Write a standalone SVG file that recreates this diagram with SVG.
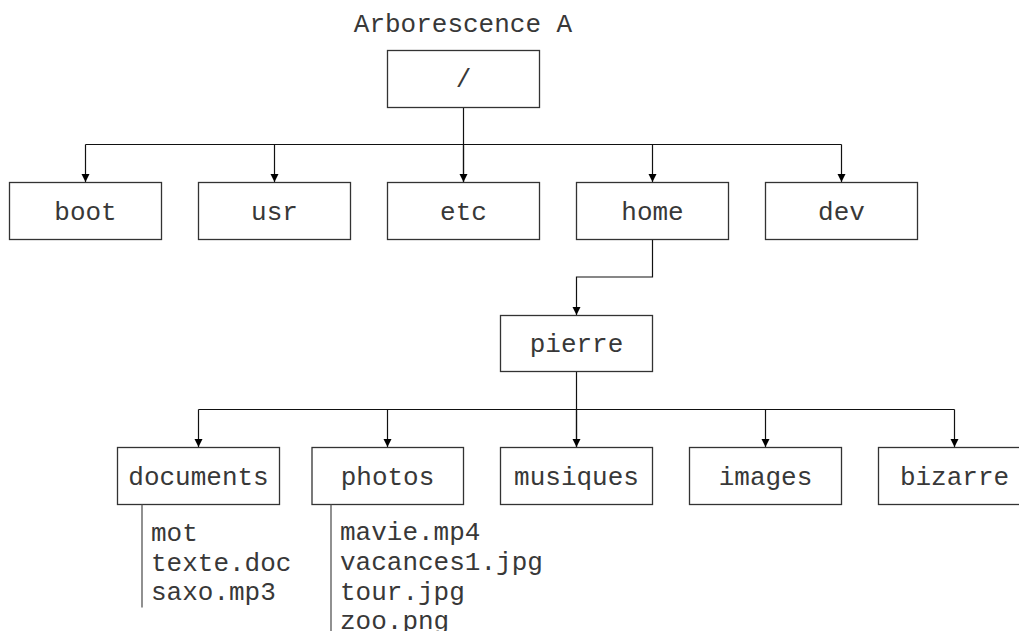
<svg xmlns="http://www.w3.org/2000/svg" width="1019" height="631" viewBox="0 0 1019 631">
  <style>
    .box { fill: #ffffff; stroke: #333333; stroke-width: 1.3; }
    .lbl { font-family: "Liberation Mono", "Courier New", monospace; font-size: 26px; fill: #383838; text-anchor: middle; }
    .item { font-family: "Liberation Mono", "Courier New", monospace; font-size: 26px; fill: #383838; }
    .wire { fill: none; stroke: #111111; stroke-width: 1.2; }
    .rail { fill: none; stroke: #555555; stroke-width: 1.3; }
  </style>
  <defs>
    <marker id="arrow" viewBox="0 0 8 10" refX="8" refY="5" markerWidth="8" markerHeight="10" markerUnits="userSpaceOnUse" orient="auto">
      <path d="M0,1 L8,5 L0,9 Z" fill="#000000"/>
    </marker>
  </defs>
  <rect width="1019" height="631" fill="#ffffff"/>

  <text class="lbl" x="463" y="32">Arborescence A</text>

  <!-- connectors -->
  <g id="connectors">
    <path class="wire" d="M463.5,107 V182"/>
    <path class="wire" d="M85.5,144.5 H841.5"/>
    <path class="wire" d="M85.5,144.5 V182" marker-end="url(#arrow)"/>
    <path class="wire" d="M274.5,144.5 V182" marker-end="url(#arrow)"/>
    <path class="wire" d="M463.5,144.5 V182" marker-end="url(#arrow)"/>
    <path class="wire" d="M652.5,144.5 V182" marker-end="url(#arrow)"/>
    <path class="wire" d="M841.5,144.5 V182" marker-end="url(#arrow)"/>
    <path class="wire" d="M652.5,239.5 V277 H576.5 V315" marker-end="url(#arrow)"/>
    <path class="wire" d="M576.5,371.5 V447"/>
    <path class="wire" d="M198.5,409.5 H954.5"/>
    <path class="wire" d="M198.5,409.5 V447" marker-end="url(#arrow)"/>
    <path class="wire" d="M387.5,409.5 V447" marker-end="url(#arrow)"/>
    <path class="wire" d="M576.5,409.5 V447" marker-end="url(#arrow)"/>
    <path class="wire" d="M765.5,409.5 V447" marker-end="url(#arrow)"/>
    <path class="wire" d="M954.5,409.5 V447" marker-end="url(#arrow)"/>
  </g>

  <g id="node-root">
    <rect class="box" x="387.5" y="50.5" width="152" height="57"/>
    <text class="lbl" x="463.5" y="87">/</text>
  </g>

  <g id="node-boot">
    <rect class="box" x="9.5" y="182.5" width="152" height="57"/>
    <text class="lbl" x="85.5" y="219.5">boot</text>
  </g>
  <g id="node-usr">
    <rect class="box" x="198.5" y="182.5" width="152" height="57"/>
    <text class="lbl" x="274.5" y="219.5">usr</text>
  </g>
  <g id="node-etc">
    <rect class="box" x="387.5" y="182.5" width="152" height="57"/>
    <text class="lbl" x="463.5" y="219.5">etc</text>
  </g>
  <g id="node-home">
    <rect class="box" x="576.5" y="182.5" width="152" height="57"/>
    <text class="lbl" x="652.5" y="219.5">home</text>
  </g>
  <g id="node-dev">
    <rect class="box" x="765.5" y="182.5" width="152" height="57"/>
    <text class="lbl" x="841.5" y="219.5">dev</text>
  </g>

  <g id="node-pierre">
    <rect class="box" x="500.5" y="315.5" width="152" height="56"/>
    <text class="lbl" x="576.5" y="352">pierre</text>
  </g>

  <g id="node-documents">
    <rect class="box" x="117.5" y="447.5" width="162" height="57"/>
    <text class="lbl" x="198.5" y="484.5">documents</text>
    <path class="rail" d="M142,504.5 V607.5"/>
    <text class="item" x="151" y="541">mot</text>
    <text class="item" x="151" y="571">texte.doc</text>
    <text class="item" x="151" y="600">saxo.mp3</text>
  </g>
  <g id="node-photos">
    <rect class="box" x="312" y="447.5" width="151.5" height="57"/>
    <text class="lbl" x="387.5" y="484.5">photos</text>
    <path class="rail" d="M331,504.5 V631"/>
    <text class="item" x="340" y="540">mavie.mp4</text>
    <text class="item" x="340" y="570">vacances1.jpg</text>
    <text class="item" x="340" y="600">tour.jpg</text>
    <text class="item" x="340" y="629">zoo.png</text>
  </g>
  <g id="node-musiques">
    <rect class="box" x="500.5" y="447.5" width="152" height="57"/>
    <text class="lbl" x="576.5" y="484.5">musiques</text>
  </g>
  <g id="node-images">
    <rect class="box" x="689.5" y="447.5" width="152" height="57"/>
    <text class="lbl" x="765.5" y="484.5">images</text>
  </g>
  <g id="node-bizarre">
    <rect class="box" x="878.5" y="447.5" width="152" height="57"/>
    <text class="lbl" x="954.5" y="484.5">bizarre</text>
  </g>
</svg>
